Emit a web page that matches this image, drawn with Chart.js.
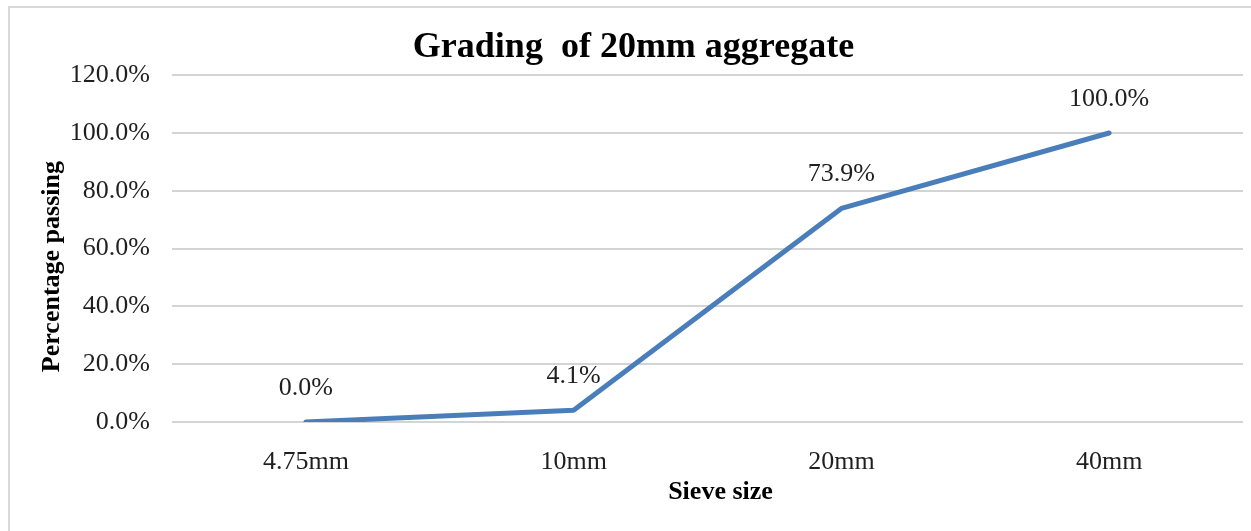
<!DOCTYPE html>
<html>
<head>
<meta charset="utf-8">
<title>Grading of 20mm aggregate</title>
<script src="https://cdn.jsdelivr.net/npm/chart.js@4"></script>
<style>
    html, body { margin: 0; padding: 0; background: #fff; overflow: hidden; }
    #frame {
        position: absolute; left: 8px; top: 6px; width: 1260px; height: 540px;
        border: 2px solid #d9d9d9; box-sizing: border-box;
    }
    #gradingChart { position: absolute; left: 0; top: 0; }
</style>
</head>
<body>
<div id="frame"></div>
<canvas id="gradingChart" width="1251" height="531"></canvas>
<script>
// Sieve sizes and percentage passing
const sieveSizes = ["4.75mm", "10mm", "20mm", "40mm"];
const percentPassing = [0, 4.1, 73.9, 100];
const yTicks = [0, 20, 40, 60, 80, 100, 120];

const serif = '"Liberation Serif", "Times New Roman", serif';

// value labels above each point
const pointLabels = {
    id: "pointLabels",
    afterDatasetsDraw(chart) {
        const ctx = chart.ctx;
        const meta = chart.getDatasetMeta(0);
        ctx.save();
        ctx.font = "26px " + serif;
        ctx.fillStyle = "#1f1f1f";
        ctx.textAlign = "center";
        ctx.textBaseline = "middle";
        meta.data.forEach(function (pt, i) {
            ctx.fillText(percentPassing[i].toFixed(1) + "%", pt.x, pt.y - 34);
        });
        ctx.restore();
    }
};

// axis titles (placed like the Excel original)
const axisTitles = {
    id: "axisTitles",
    afterDraw(chart) {
        const ctx = chart.ctx;
        const area = chart.chartArea;
        ctx.save();
        ctx.font = "bold 26px " + serif;
        ctx.fillStyle = "#000";
        ctx.textAlign = "center";
        ctx.textBaseline = "middle";
        ctx.fillText("Sieve size", (area.left + area.right) / 2 + 13, 492);
        ctx.translate(52, (area.top + area.bottom) / 2 + 18);
        ctx.rotate(-Math.PI / 2);
        ctx.fillText("Percentage passing", 0, 0);
        ctx.restore();
    }
};

new Chart(document.getElementById("gradingChart").getContext("2d"), {
    type: "line",
    data: {
        labels: sieveSizes,
        datasets: [
            {
                label: "Percentage passing",
                data: percentPassing,
                borderColor: "#4a7ebb",
                borderWidth: 5,
                borderCapStyle: "round",
                borderJoinStyle: "round",
                pointRadius: 0,
                pointHoverRadius: 0,
                tension: 0,
                fill: false,
            },
        ],
    },
    options: {
        responsive: false,
        devicePixelRatio: 1,
        animation: false,
        layout: { padding: { left: 24, right: 8, top: 0, bottom: 0 } },
        plugins: {
            legend: { display: false },
            tooltip: { enabled: false },
            title: {
                display: true,
                text: "Grading  of 20mm aggregate",
                color: "#000",
                font: { family: serif, size: 36, weight: "bold" },
                padding: { top: 26, bottom: 6 },
            },
        },
        scales: {
            x: {
                offset: true,
                grid: { display: false },
                border: { display: false },
                ticks: {
                    color: "#1f1f1f",
                    padding: 17,
                    font: { family: serif, size: 26 },
                },
                afterFit(scale) { scale.height = 109; },
            },
            y: {
                min: 0,
                max: 120,
                afterBuildTicks(scale) {
                    scale.ticks = yTicks.map(function (v) { return { value: v }; });
                },
                grid: { color: "#d4d4d4", lineWidth: 2, drawTicks: false },
                border: { display: false },
                ticks: {
                    color: "#1f1f1f",
                    padding: 22,
                    font: { family: serif, size: 26 },
                    callback: function (v) { return v.toFixed(1) + "%"; },
                },
                afterFit(scale) { scale.width = 148; },
            },
        },
    },
    plugins: [pointLabels, axisTitles],
});
</script>
</body>
</html>
